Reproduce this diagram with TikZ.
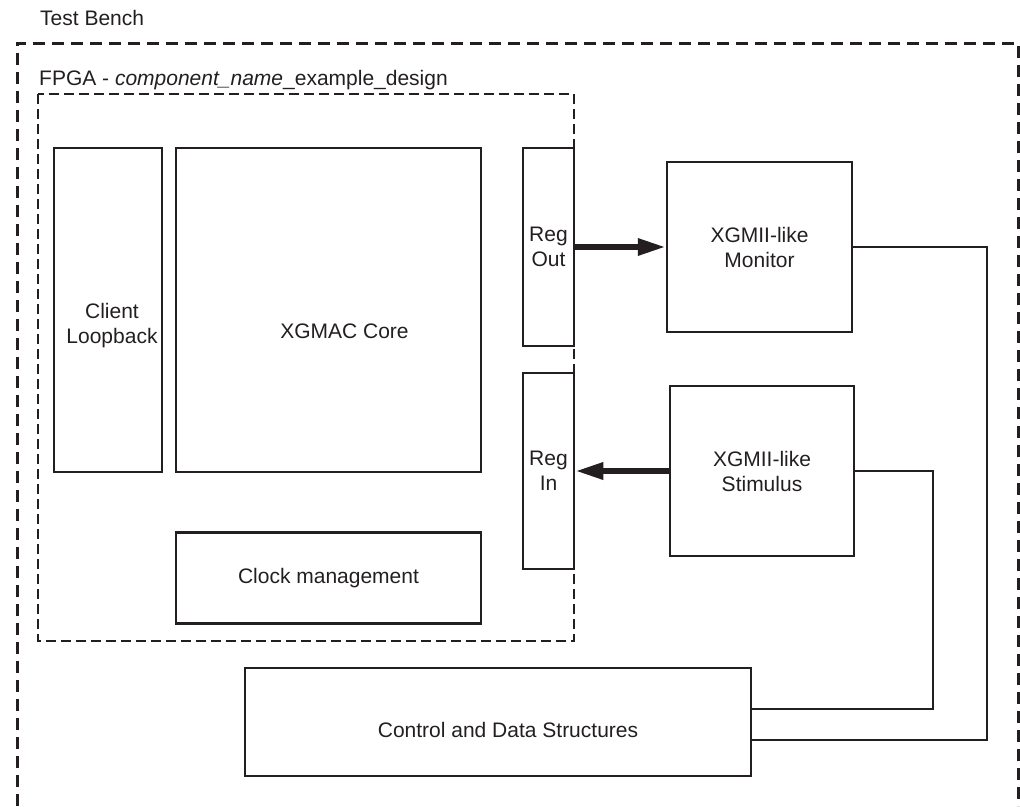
\documentclass[tikz,border=0pt]{standalone}
\usepackage{fontspec}
\setmainfont{Liberation Sans}
\usetikzlibrary{arrows.meta}
\definecolor{ink}{RGB}{35, 31, 32}
\tikzset{
	blk/.style={draw=ink, text=ink, line width=2.5pt, inner sep=0pt, align=center, font=\fontsize{21}{25}\selectfont},
	txt/.style={text=ink, inner sep=0pt, align=center, font=\fontsize{21}{25}\selectfont},
	lbl/.style={text=ink, inner sep=0pt, anchor=base west, font=\fontsize{21}{25}\selectfont},
	tbframe/.style={draw=ink, line width=3pt, dash pattern=on 12pt off 7pt},
	fpgaframe/.style={draw=ink, line width=2.5pt, dash pattern=on 10pt off 5pt},
	bus/.style={draw=ink, line width=6pt, -{Triangle[length=28pt,width=16pt]}},
	wire/.style={draw=ink, line width=2.3pt}
}
\begin{document}
\begin{tikzpicture}[x=1pt,y=-1pt]
	\useasboundingbox (0,0) rectangle (1020,806);

	%Test Bench (open at the bottom)
	\draw[tbframe] (17,806) -- (17,43) -- (1018,43) -- (1018,806);
	\node[lbl] (tb) at (40,25.5) {Test Bench};

	%FPGA
	\draw[fpgaframe] (38,94) rectangle (574,641);
	\node[lbl] (fpga) at (39,85.5) {FPGA - \textit{component\_name}\_example\_design};

	%Blocks inside the FPGA
	\node[blk, minimum width=108pt, minimum height=324pt] (loop) at (108,310) {};
	\node[txt] (looptxt) at ([shift={(4,16)}]loop.center) {Client\\Loopback};
	\node[blk, minimum width=305pt, minimum height=324pt] (core) at (328.5,310) {};
	\node[txt] (coretxt) at ([shift={(16,21)}]core.center) {XGMAC Core};
	\node[blk, minimum width=305pt, minimum height=91pt] (clk) at (328.5,578) {Clock management};
	\node[blk, minimum width=51pt, minimum height=198pt] (regout) at (548.5,247) {Reg\\Out};
	\node[blk, minimum width=51pt, minimum height=196pt] (regin) at (548.5,471) {Reg\\In};

	%Test bench blocks
	\node[blk, minimum width=185pt, minimum height=170pt] (mon) at (759.5,247) {XGMII-like\\Monitor};
	\node[blk, minimum width=184pt, minimum height=170pt] (stim) at (762,471) {XGMII-like\\Stimulus};
	\node[blk, minimum width=506pt, minimum height=108pt] (ctrl) at (498,722) {};
	\node[txt] (ctrltxt) at ([shift={(10,8)}]ctrl.center) {Control and Data Structures};

	%Data paths
	\draw[bus] (regout.east) -- (mon.west);
	\draw[bus] (stim.west) -- (regin.east);

	%Links to the control block
	\draw[wire] (mon.east) -- ++(134,0) |- ([yshift=-18pt]ctrl.east);
	\draw[wire] (stim.east) -- ++(78,0) |- ([yshift=13pt]ctrl.east);
\end{tikzpicture}
\end{document}
